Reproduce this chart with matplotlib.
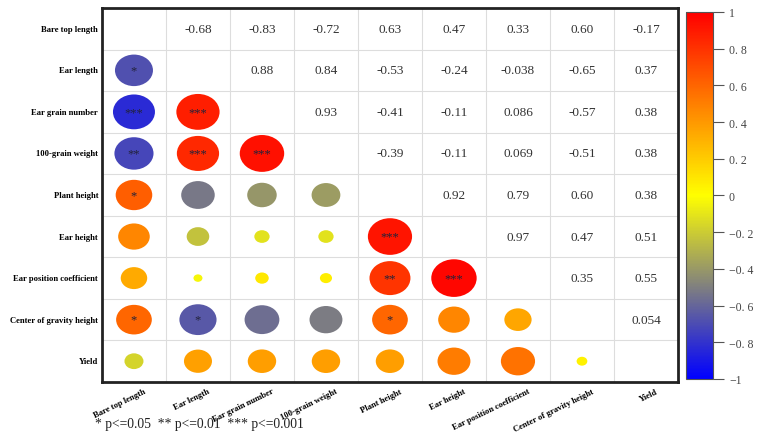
import numpy as np
import matplotlib
matplotlib.use("Agg")
import matplotlib.pyplot as plt
from matplotlib.colors import LinearSegmentedColormap, Normalize
from matplotlib.patches import Ellipse
from matplotlib.cm import ScalarMappable

# 变量名称
labels = ["Bare top length", "Ear length", "Ear grain number", "100-grain weight",
          "Plant height", "Ear height", "Ear position coefficient",
          "Center of gravity height", "Yield"]

# 上三角相关系数（按行）
upper_r = [
    [-0.68, -0.83, -0.72, 0.63, 0.47, 0.33, 0.60, -0.17],
    [0.88, 0.84, -0.53, -0.24, -0.038, -0.65, 0.37],
    [0.93, -0.41, -0.11, 0.086, -0.57, 0.38],
    [-0.39, -0.11, 0.069, -0.51, 0.38],
    [0.92, 0.79, 0.60, 0.38],
    [0.97, 0.47, 0.51],
    [0.35, 0.55],
    [0.054],
]

# 下三角显著性标记（按行）
stars = [
    [],
    ["*"],
    ["***", "***"],
    ["**", "***", "***"],
    ["*", "", "", ""],
    ["", "", "", "", "***"],
    ["", "", "", "", "**", "***"],
    ["*", "*", "", "", "*", "", ""],
    ["", "", "", "", "", "", "", ""],
]

cbar_ticks = [1, 0.8, 0.6, 0.4, 0.2, 0, -0.2, -0.4, -0.6, -0.8, -1]

n = len(labels)
corr = np.eye(n)
for i, row in enumerate(upper_r):
    for k, v in enumerate(row):
        j = i + 1 + k
        corr[i, j] = v
        corr[j, i] = v

cmap = LinearSegmentedColormap.from_list("byr", ["#0000ff", "#ffff00", "#ff0000"])
norm = Normalize(-1, 1)

serif = ["Liberation Serif", "DejaVu Serif"]

fig = plt.figure(figsize=(7.57, 4.39), dpi=100)
ax = fig.add_axes([0.1347, 0.1276, 0.7609, 0.8519])
ax.set_xlim(0, n)
ax.set_ylim(n, 0)

# 网格线
for k in range(1, n):
    ax.axvline(k, color="#dddddd", lw=0.8, zorder=0)
    ax.axhline(k, color="#dddddd", lw=0.8, zorder=0)

for i in range(n):
    for j in range(n):
        if i == j:
            continue
        r = corr[i, j]
        if j > i:
            ax.text(j + 0.5, i + 0.5, f"{r:#.2g}", ha="center", va="center",
                    fontsize=9.5, family=serif, color="#333333")
        else:
            s = np.sqrt(abs(r))
            ax.add_patch(Ellipse((j + 0.5, i + 0.5), 0.72 * s, 0.92 * s,
                                 facecolor=cmap(norm(r)), edgecolor="none"))
            st = stars[i][j]
            if st:
                ax.text(j + 0.5, i + 0.5, st, ha="center", va="center",
                        fontsize=9, family=serif, color="#22223a")

ax.set_xticks([])
ax.set_yticks([])
for sp in ax.spines.values():
    sp.set_linewidth(2)
    sp.set_color("#222222")

for i, lab in enumerate(labels):
    ax.text(-0.06, i + 0.5, lab, ha="right", va="center", fontsize=6.2,
            fontweight="bold", family=serif)
    ax.text(i + 0.65, n + 0.12, lab, ha="right", va="top", rotation=26,
            rotation_mode="anchor", fontsize=6.2, fontweight="bold", family=serif)

fig.text(0.125, 0.032, "* p<=0.05  ** p<=0.01  *** p<=0.001", fontsize=9.8,
         family=serif, color="#222222", va="center")

# 颜色条
cax = fig.add_axes([0.9062, 0.1344, 0.0357, 0.836])
cb = fig.colorbar(ScalarMappable(norm=norm, cmap=cmap), cax=cax)
cb.set_ticks(cbar_ticks)
tick_labels = []
for v in cbar_ticks:
    if v in (1, 0, -1):
        tick_labels.append(f"{v:d}".replace("-", "\u2212"))
    else:
        tick_labels.append(f"{v:.1f}".replace(".", ". ").replace("-", "\u2212"))
cb.set_ticklabels(tick_labels)
cax.tick_params(length=8, width=0.8, color="#555555", labelsize=8.5,
                labelcolor="#444444")
for t in cax.get_yticklabels():
    t.set_family(serif)
cb.outline.set_linewidth(0.8)
cb.outline.set_edgecolor("#555555")

fig.savefig("out.png", dpi=100)
